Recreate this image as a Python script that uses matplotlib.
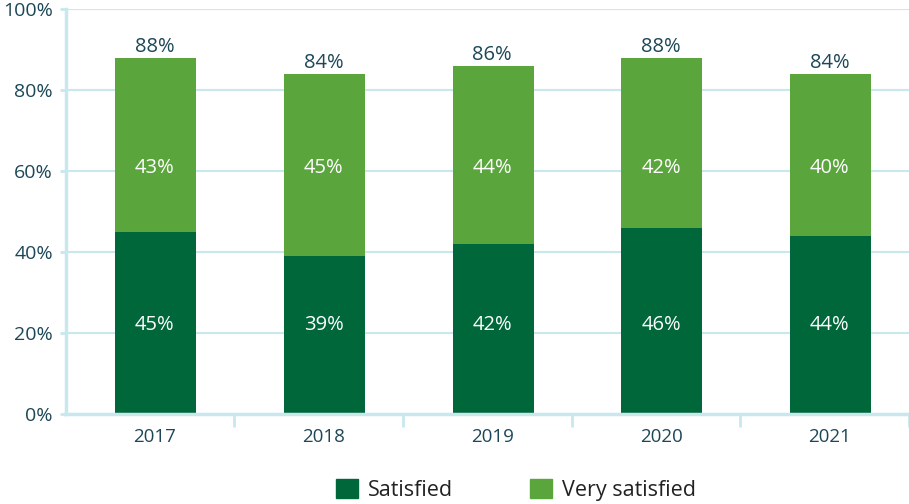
import matplotlib
matplotlib.use("Agg")
import matplotlib.pyplot as plt
from matplotlib.patches import Patch
import numpy as np

years = ["2017", "2018", "2019", "2020", "2021"]
satisfied = [45, 39, 42, 46, 44]
very_satisfied = [43, 45, 44, 42, 40]
series_names = ["Satisfied", "Very satisfied"]
yticks = [0, 20, 40, 60, 80, 100]

DARK = "#00673A"
LIGHT = "#5AA63D"
GRID = "#C8E8EE"
TXT = "#1C4757"

# label heights (axis units) used by the reference for the in-bar labels
LBL_Y_BOTTOM = 22.0
LBL_Y_TOP = 60.8

plt.rcParams['font.family'] = ['Open Sans', 'DejaVu Sans']

fig = plt.figure(figsize=(9.09, 5.04), dpi=100)
ax = fig.add_axes([65.5/909, (504-414)/504, (909-65.5)/909, (414-9.5)/504])

x = np.arange(len(years))
w = 0.48
ax.bar(x + 0.005, satisfied, width=w, color=DARK, zorder=3)
ax.bar(x + 0.005, very_satisfied, width=w, bottom=satisfied, color=LIGHT, zorder=3)

for i in range(len(years)):
    ax.text(x[i], LBL_Y_BOTTOM, f"{satisfied[i]}%", ha="center", va="center",
            color="white", fontsize=14.5, zorder=4)
    ax.text(x[i], LBL_Y_TOP, f"{very_satisfied[i]}%",
            ha="center", va="center", color="white", fontsize=14.5, zorder=4)
    tot = satisfied[i] + very_satisfied[i]
    ax.text(x[i], tot + 0.3, f"{tot}%", ha="center", va="bottom",
            color=TXT, fontsize=14.5, zorder=4)

ax.set_ylim(0, 100)
ax.set_xlim(-0.53, (909 - 156) / 170.5)
ax.set_yticks(yticks)
ax.set_yticklabels([f"{t}%" for t in yticks], color=TXT, fontsize=14)
ax.yaxis.grid(True, color=GRID, linewidth=1.5, zorder=0)

ax.set_xticks(np.arange(len(years)) - 0.53 + 1)
ax.set_xticks(x, minor=True)
ax.set_xticklabels([])
ax.set_xticklabels(years, minor=True, color=TXT, fontsize=13.5)
ax.tick_params(axis="x", which="major", length=9, width=2, color=GRID)
ax.tick_params(axis="x", which="minor", length=0, pad=10)
ax.tick_params(axis="y", length=4, width=2, color=GRID, pad=5)

for s in ["top", "right"]:
    ax.spines[s].set_visible(False)
for s in ["left", "bottom"]:
    ax.spines[s].set_color(GRID)
    ax.spines[s].set_linewidth(2.5)
    ax.spines[s].set_zorder(5)

handles = [Patch(color=DARK, label=series_names[0]), Patch(color=LIGHT, label=series_names[1])]
fig.legend(handles=handles, loc="center", bbox_to_anchor=(516/909, 1 - 490/504), ncol=2,
           frameon=False, fontsize=15.5, handlelength=1.0, handleheight=1.0,
           handletextpad=0.45, columnspacing=3.6, labelcolor="#222222")

fig.savefig("out.png", dpi=100)
